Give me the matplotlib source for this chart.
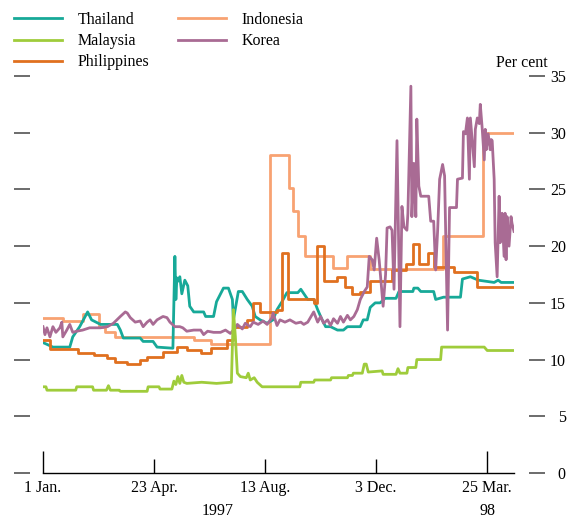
import matplotlib
matplotlib.use('Agg')
import matplotlib.pyplot as plt
import numpy as np

# days counted from 1 Jan. 1997
tick_days = [0, 112, 224, 336, 448]
tick_labels = ['1 Jan.', '23 Apr.', '13 Aug.', '3 Dec.', '25 Mar.']
y_ticks = [0, 5, 10, 15, 20, 25, 30, 35]

# step series (value holds until next day listed)
indo_days = [0, 20, 40, 56, 63, 73, 152, 169, 229, 248, 252, 257, 264, 292, 307, 330, 403, 444, 475]
indo_vals = [13.7, 13.4, 14.0, 12.9, 12.4, 12.0, 11.7, 11.4, 28.0, 25.1, 23.1, 20.9, 19.1, 18.1, 19.1, 18.0, 20.9, 30.0, 30.0]

phil_days = [0, 7, 35, 51, 65, 73, 85, 98, 105, 121, 135, 145, 159, 169, 186, 192, 206, 212, 219, 236, 241,
             247, 273, 276, 283, 297, 305, 312, 320, 330, 352, 366, 373, 379, 388, 394, 414, 438, 475]
phil_vals = [11.7, 10.9, 10.6, 10.4, 10.1, 9.8, 9.6, 10.0, 10.2, 10.7, 11.1, 10.8, 10.6, 11.0, 11.7, 12.9, 13.5, 15.0,
             14.2, 14.4, 19.4, 15.3, 15.0, 20.0, 16.9, 17.3, 16.4, 15.8, 16.0, 16.9, 17.9, 18.4, 20.2, 18.4, 19.4,
             18.2, 17.7, 16.4, 16.4]

thai_days = [0, 5, 10, 27, 30, 37, 45, 49, 58, 75, 78, 81, 98, 101, 111, 115, 131, 133, 134, 135, 136, 138, 140,
             143, 146, 148, 152, 162, 164, 172, 175, 182, 187, 191, 192, 197, 201, 206, 211, 214, 219, 226, 232,
             236, 241, 246, 257, 260, 267, 273, 277, 281, 285, 290, 297, 303, 307, 320, 323, 327, 330, 335, 340,
             345, 356, 359, 373, 374, 378, 381, 394, 396, 404, 421, 423, 431, 439, 455, 459, 462, 475]
thai_vals = [11.5, 11.3, 11.1, 11.1, 12.0, 12.9, 14.2, 13.5, 13.1, 13.1, 12.6, 11.9, 11.9, 11.6, 11.6, 11.1, 11.0,
             19.1, 15.3, 17.2, 16.9, 17.3, 15.8, 17.0, 16.5, 14.7, 14.2, 14.2, 13.8, 13.8, 15.1, 16.3, 16.3, 15.3,
             13.5, 16.0, 16.0, 15.3, 14.7, 13.8, 13.5, 13.2, 13.5, 14.4, 15.1, 15.9, 15.9, 16.2, 15.3, 15.3, 14.4,
             13.6, 12.9, 12.9, 12.6, 12.6, 12.9, 12.9, 13.5, 13.5, 14.6, 15.0, 15.0, 15.4, 15.4, 16.0, 16.0, 16.3,
             16.3, 16.0, 16.0, 15.3, 15.5, 15.5, 17.1, 17.3, 17.0, 16.8, 17.0, 16.8, 16.8]

malay_days = [0, 3, 4, 33, 34, 50, 51, 64, 66, 68, 77, 78, 105, 106, 117, 118, 130, 132, 134, 136, 138, 140, 142,
              145, 160, 175, 190, 192, 194, 196, 199, 205, 207, 209, 213, 216, 221, 259, 260, 273, 274, 290, 291,
              307, 308, 312, 313, 322, 324, 326, 328, 342, 343, 356, 358, 360, 367, 368, 376, 377, 401, 402, 445,
              448, 475]
malay_vals = [7.6, 7.6, 7.3, 7.3, 7.6, 7.6, 7.3, 7.3, 7.7, 7.3, 7.3, 7.2, 7.2, 7.6, 7.6, 7.4, 7.4, 8.1, 7.8, 8.5,
              7.9, 8.6, 8.0, 7.9, 8.0, 7.9, 8.0, 14.4, 12.0, 8.8, 8.5, 8.4, 8.8, 8.2, 8.4, 8.0, 7.6, 7.6, 8.0, 8.0,
              8.2, 8.2, 8.4, 8.4, 8.6, 8.6, 8.8, 8.8, 9.6, 9.6, 8.9, 9.0, 8.7, 8.7, 9.2, 8.8, 8.8, 9.3, 9.3, 10.0,
              10.0, 11.1, 11.1, 10.8, 10.8]

korea_days = [0, 2, 4, 7, 10, 13, 17, 19, 20, 24, 27, 30, 34, 40, 47, 58, 65, 71, 78, 83, 85, 88, 93, 98, 101,
              105, 108, 111, 115, 121, 125, 128, 133, 138, 141, 145, 152, 159, 162, 166, 172, 179, 184, 189, 194,
              196, 201, 204, 209, 212, 217, 222, 226, 231, 232, 236, 239, 244, 249, 255, 260, 263, 267, 273, 277,
              280, 283, 287, 290, 293, 297, 300, 303, 307, 310, 313.5, 317, 320, 324, 327, 329, 332, 334, 336.5,
              339, 341, 343, 345.5, 347, 350, 352, 354, 357, 360, 362, 364, 367, 368, 371, 372, 374, 376, 377,
              379, 381, 389, 391, 394, 396, 398, 400, 403, 405, 408, 410, 417, 418, 423, 424, 426, 428, 430, 431,
              435, 436, 438, 440, 441, 443, 445, 446, 447, 449, 451, 452, 453, 455, 456, 458, 460, 461, 463, 465,
              466, 467, 468, 470, 472, 473, 475]
korea_vals = [12.9, 12.2, 12.8, 12.0, 12.9, 12.4, 12.8, 13.3, 12.0, 12.6, 13.1, 12.4, 12.5, 12.6, 12.8, 12.8,
              12.9, 13.2, 13.8, 14.2, 14.1, 13.7, 13.3, 13.4, 12.9, 13.3, 13.5, 13.1, 13.5, 13.8, 13.7, 13.3, 12.9,
              12.9, 12.8, 12.5, 12.6, 12.6, 12.2, 12.5, 12.4, 12.4, 12.6, 12.3, 12.8, 13.1, 12.7, 13.2, 12.9, 13.3,
              13.1, 13.4, 13.1, 13.7, 14.1, 13.0, 13.5, 13.3, 13.5, 13.2, 13.3, 13.1, 13.3, 14.2, 13.3, 13.8, 13.2,
              13.5, 13.0, 13.6, 13.2, 13.8, 13.3, 13.9, 13.5, 13.8, 14.4, 15.3, 16.0, 16.4, 19.1, 18.8, 17.9, 20.7,
              18.8, 16.7, 14.7, 17.5, 21.6, 21.7, 21.4, 16.2, 29.3, 12.9, 23.5, 21.7, 21.4, 22.9, 34.1, 22.6, 27.3,
              22.6, 31.2, 25.3, 24.4, 24.4, 22.2, 22.2, 17.9, 21.4, 25.9, 27.2, 26.2, 12.6, 23.4, 23.4, 25.9, 26.0,
              30.1, 29.9, 31.3, 25.9, 31.3, 27.0, 30.3, 31.3, 30.8, 32.5, 30.3, 27.6, 30.3, 28.5, 29.9, 28.5, 29.4,
              29.3, 25.9, 20.3, 17.3, 24.4, 20.3, 22.9, 19.1, 22.9, 18.8, 22.6, 20.0, 22.6, 22.0, 21.3]

c_thai = '#17a998'
c_malay = '#9fcc3b'
c_phil = '#e0701f'
c_indo = '#f8a272'
c_korea = '#a96b94'

plt.rcParams['font.family'] = ['Liberation Serif', 'DejaVu Serif']
plt.rcParams['font.size'] = 11.5

fig = plt.figure(figsize=(5.77, 5.18), dpi=100)
ax = fig.add_axes([43 / 577, 45 / 518, 471 / 577, 397 / 518])

lw = 2.0
l_indo, = ax.plot(indo_days, indo_vals, color=c_indo, lw=lw, drawstyle='steps-post', zorder=2)
l_thai, = ax.plot(thai_days, thai_vals, color=c_thai, lw=lw, zorder=3)
l_phil, = ax.plot(phil_days, phil_vals, color=c_phil, lw=lw, drawstyle='steps-post', zorder=4)
l_korea, = ax.plot(korea_days, korea_vals, color=c_korea, lw=lw, zorder=5)
l_malay, = ax.plot(malay_days, malay_vals, color=c_malay, lw=lw, zorder=6)

ax.set_xlim(0, 475)
ax.set_ylim(0, 35)

# x axis
ax.spines['top'].set_visible(False)
ax.spines['bottom'].set_linewidth(1.0)
ax.set_xticks(tick_days)
ax.set_xticklabels(tick_labels)
ax.tick_params(axis='x', direction='in', length=10, width=1.0, pad=5)
xt = ax.xaxis.get_major_ticks()
xt[0].tick1line.set_markersize(16)
xt[-1].tick1line.set_markersize(16)

# y axis: dashes on both sides, labels on right
ax.spines['left'].set_position(('axes', (30 - 43) / 471))
ax.spines['right'].set_position(('axes', (529 - 43) / 471))
ax.spines['left'].set_color('none')
ax.spines['right'].set_color('none')
ax.set_yticks(y_ticks)
ax.tick_params(axis='y', direction='out', length=11.5, width=1.1, color='#444444',
               left=True, right=True, labelleft=False, labelright=True, pad=15)
plt.setp(ax.get_yticklabels(), ha='right')

ax.text(176, -0.096, '1997', transform=ax.get_xaxis_transform(), ha='center', va='center')
ax.text(448, -0.096, '98', transform=ax.get_xaxis_transform(), ha='center', va='center')
fig.text(548 / 577, 1 - 63 / 518, 'Per cent', ha='right', va='center')

fig.legend([l_thai, l_malay, l_phil, l_indo, l_korea],
           ['Thailand', 'Malaysia', 'Philippines', 'Indonesia', 'Korea'],
           ncol=2, loc='upper left', bbox_to_anchor=(14 / 577, 1 - 12 / 518),
           frameon=False, handlelength=3.0, handletextpad=1.0, columnspacing=1.75,
           labelspacing=0.32, borderpad=0, borderaxespad=0)

fig.savefig('out.png', dpi=100)
